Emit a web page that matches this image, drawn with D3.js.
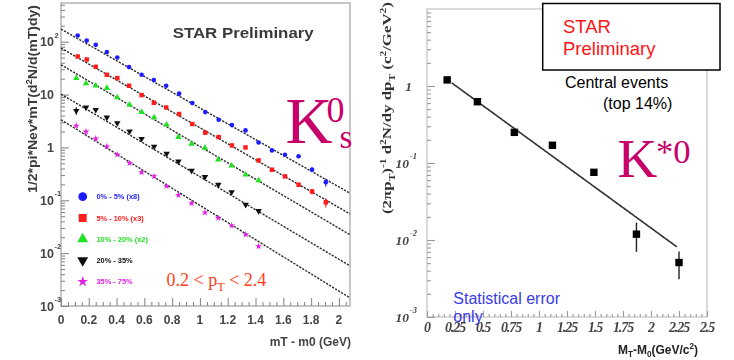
<!DOCTYPE html>
<html>
<head>
<meta charset="utf-8">
<script src="https://cdn.jsdelivr.net/npm/d3@7"></script>
<style>
  html, body { margin: 0; padding: 0; background: #fff; }
  svg { display: block; }
</style>
</head>
<body>
<svg id="chart" width="734" height="360"></svg>
<script>
// ---------- K0s spectra: 1/(2*pi*Nev*mT) d2N/d(mT)dy vs mT - m0 (GeV) ----------
const mtBinsCentral = [0.12, 0.185, 0.25, 0.33, 0.405, 0.49, 0.58, 0.668, 0.757, 0.85, 0.945,
                       1.038, 1.135, 1.23, 1.328, 1.422, 1.518, 1.612, 1.71, 1.807, 1.906];
const mtBinsPeripheral = [0.11, 0.18, 0.25, 0.33, 0.405, 0.494, 0.58, 0.67, 0.76, 0.845, 0.94,
                          1.036, 1.132, 1.228, 1.329, 1.422];

const centralityLabels = ["0% - 5% (x8)", "5% - 10% (x3)", "10% - 20% (x2)", "20% - 35%", "35% - 75%"];

const yield0to5 = [131, 105, 87.4, 63.6, 50.3, 33.1, 23.7, 18.8, 14.7, 10.4, 6.91,
                   4.67, 3.34, 2.65, 2.10, 1.24, 0.878, 0.728, 0.682, 0.379, 0.220];
const yield5to10 = [52.5, 46.1, 33.5, 23.7, 20.5, 14.7, 9.78, 7.0, 5.70, 4.28, 2.77,
                    1.90, 1.57, 1.09, 1.0, 0.568, 0.379, 0.283, 0.197, 0.147, 0.0913];
const yield10to20 = [20.5, 16.2, 14.7, 13.3, 8.81, 6.41, 4.67, 3.69, 2.69, 1.57, 1.17,
                     0.975, 0.585, 0.451, 0.305, 0.238];
const yield20to35 = [4.94, 5.70, 5.16, 3.69, 2.89, 2.01, 1.46, 1.04, 0.760, 0.544, 0.363,
                     0.276, 0.197, 0.1435, 0.0826, 0.0628];
const yield35to75 = [2.57, 1.98, 1.46, 1.04, 0.728, 0.507, 0.337, 0.283, 0.186, 0.125, 0.0874,
                     0.0583, 0.0463, 0.0331, 0.0224, 0.01345];

// relative statistical errors (only the larger ones show outside the markers)
const relErr0to5 = [0,0,0,0,0,0,0,0,0,0,0,0,0,0,0,0,0,0,0.08,0.10,0.18];
const relErr5to10 = [0,0,0,0,0,0,0,0,0,0,0,0,0,0,0,0,0,0.06,0.08,0.12,0.20];
const relErr20to35 = [0.16,0,0,0,0,0,0,0,0,0,0,0,0,0.06,0.08,0.08];

// exponential fits A * exp(-(mT - m0)/T)
const fitNorm = [173, 75.7, 36.6, 10.2, 3.34];
const fitTemp = [0.291, 0.288, 0.281, 0.278, 0.268];

const k0XTicks = [0, 0.2, 0.4, 0.6, 0.8, 1, 1.2, 1.4, 1.6, 1.8, 2];
const k0XTickLabels = ["0", "0.2", "0.4", "0.6", "0.8", "1", "1.2", "1.4", "1.6", "1.8", "2"];
const k0YDecades = [-3, -2, -1, 0, 1, 2];

// ---------- K*0 spectrum, central events ----------
const kstarMt = [0.18, 0.45, 0.78, 1.12, 1.49, 1.87, 2.25];
const kstarYield = [1.20, 0.625, 0.250, 0.170, 0.0757, 0.0119, 0.0051];
const kstarErr = [0.05, 0.03, 0.012, 0.01, 0.005, 0.0049, 0.002];
const kstarFitNorm = 1.88;
const kstarFitTemp = 0.41;
const kstarFitRange = [0.22, 2.23];

const kstarXTicks = [0, 0.25, 0.5, 0.75, 1, 1.25, 1.5, 1.75, 2, 2.25, 2.5];
const kstarXTickLabels = ["0", "0.25", "0.5", "0.75", "1", "1.25", "1.5", "1.75", "2", "2.25", "2.5"];
const kstarYDecades = [-3, -2, -1, 0];

// ---------------------------------------------------------------------------
const svg = d3.select("#chart");
svg.append("rect").attr("width", 734).attr("height", 360).attr("fill", "#fff");

const defs = svg.append("defs");
defs.append("filter").attr("id", "soft")
  .attr("x", "-5%").attr("y", "-5%").attr("width", "110%").attr("height", "110%")
  .append("feGaussianBlur").attr("stdDeviation", 0.55);

// text with super/subscripts: parts = [[text, "sup"|"sub"|null], ...]
function rich(sel, parts, size) {
  let cur = 0;
  parts.forEach(([txt, kind]) => {
    const off = kind === "sup" ? -0.4 * size : kind === "sub" ? 0.28 * size : 0;
    sel.append("tspan")
      .attr("dy", off - cur)
      .attr("font-size", kind ? size * 0.68 : size)
      .text(txt);
    cur = off;
  });
  return sel;
}

// =========================== left panel: K0s ===============================
const xL = d3.scaleLinear().domain([0, 2.08]).range([61, 350]);
const yL = d3.scaleLog().domain([1e-3, 540]).range([306, 3]);

const left = svg.append("g").attr("filter", "url(#soft)");

left.append("rect")
  .attr("x", xL(0)).attr("y", yL.range()[1])
  .attr("width", xL(2.08) - xL(0)).attr("height", yL.range()[0] - yL.range()[1])
  .attr("fill", "none").attr("stroke", "#a8a8a8").attr("stroke-width", 1.3);

// x ticks (pointing up into the frame)
const xMinorL = d3.range(0, 2.081, 0.05).filter(v => Math.abs(v / 0.2 - Math.round(v / 0.2)) > 1e-6);
function styleTicks(g, color) {
  g.select(".domain").remove();
  g.selectAll("line").attr("stroke", color).attr("stroke-width", 1.1);
  g.selectAll("text").remove();
}
left.append("g").attr("transform", `translate(0,${yL.range()[0]})`)
  .call(d3.axisTop(xL).tickValues(xMinorL).tickSize(4).tickFormat(""))
  .call(g => styleTicks(g, "#8a8a8a"));
left.append("g").attr("transform", `translate(0,${yL.range()[0]})`)
  .call(d3.axisTop(xL).tickValues(k0XTicks).tickSize(8).tickFormat(""))
  .call(g => styleTicks(g, "#8a8a8a"));

left.selectAll("text.xlab").data(k0XTicks).join("text")
  .attr("class", "xlab")
  .attr("x", d => xL(d)).attr("y", 324)
  .attr("text-anchor", "middle")
  .attr("font-family", "Liberation Sans, Arial, sans-serif")
  .attr("font-weight", "bold").attr("font-size", 12).attr("fill", "#444")
  .text((d, i) => k0XTickLabels[i]);

left.append("text")
  .attr("x", 351).attr("y", 346).attr("text-anchor", "end")
  .attr("font-family", "Liberation Sans, Arial, sans-serif")
  .attr("font-weight", "bold").attr("font-size", 12).attr("fill", "#444")
  .text("mT - m0 (GeV)");

// y ticks (log), pointing right into the frame
const yMinorL = [];
k0YDecades.concat([3]).forEach(d => {
  for (let k = 2; k <= 9; k++) {
    const v = k * Math.pow(10, d - 1);
    if (v >= yL.domain()[0] && v <= yL.domain()[1]) yMinorL.push(v);
  }
});
left.append("g").attr("transform", `translate(${xL(0)},0)`)
  .call(d3.axisRight(yL).tickValues(yMinorL).tickSize(4).tickFormat(""))
  .call(g => styleTicks(g, "#8a8a8a"));
left.append("g").attr("transform", `translate(${xL(0)},0)`)
  .call(d3.axisRight(yL).tickValues(k0YDecades.map(d => Math.pow(10, d))).tickSize(8).tickFormat(""))
  .call(g => styleTicks(g, "#8a8a8a"));

k0YDecades.forEach(d => {
  const y = yL(Math.pow(10, d));
  const base = d === 0 ? "1" : "10";
  left.append("text")
    .attr("x", 54).attr("y", y).attr("dy", "0.36em")
    .attr("text-anchor", "end")
    .attr("font-family", "Liberation Sans, Arial, sans-serif")
    .attr("font-weight", "bold").attr("font-size", 12.5).attr("fill", "#444")
    .text(base);
  if (d !== 0 && d !== 1) {
    left.append("text")
      .attr("x", 54.5).attr("y", y - 4)
      .attr("font-family", "Liberation Sans, Arial, sans-serif")
      .attr("font-weight", "bold").attr("font-size", 7.5).attr("fill", "#444")
      .text(String(d));
  }
});

// y title
rich(left.append("text")
  .attr("transform", "translate(37,193) rotate(-90)")
  .attr("text-anchor", "start")
  .attr("font-family", "Liberation Sans, Arial, sans-serif")
  .attr("font-weight", "bold").attr("fill", "#3a3a3a")
  .attr("textLength", 188).attr("lengthAdjust", "spacingAndGlyphs"),
  [["1/2*pi*Nev*mT(d", null], ["2", "sup"], ["N/d(mT)dy)", null]], 12.5);

// fits
const fitX = d3.range(0, 2.0801, 0.02);
fitNorm.forEach((A, i) => {
  const line = d3.line().x(d => xL(d)).y(d => yL(A * Math.exp(-d / fitTemp[i])));
  left.append("path")
    .attr("d", line(fitX))
    .attr("fill", "none").attr("stroke", "#2a2a2a")
    .attr("stroke-width", 1.4).attr("stroke-dasharray", "2.2,1.3");
});

// data series
const k0Series = [
  { mt: mtBinsCentral, y: yield0to5, err: relErr0to5 },
  { mt: mtBinsCentral, y: yield5to10, err: relErr5to10 },
  { mt: mtBinsPeripheral, y: yield10to20, err: null },
  { mt: mtBinsPeripheral, y: yield20to35, err: relErr20to35 },
  { mt: mtBinsPeripheral, y: yield35to75, err: null }
];
const seriesStyle = [
  { color: "#1f1fff", shape: d3.symbolCircle, size: 17, rot: 0, legSize: 60 },
  { color: "#ff1a1a", shape: d3.symbolSquare, size: 20, rot: 0, legSize: 64 },
  { color: "#22e022", shape: d3.symbolTriangle, size: 18, rot: 0, legSize: 52 },
  { color: "#111111", shape: d3.symbolTriangle, size: 18, rot: 180, legSize: 52 },
  { color: "#e020e0", shape: d3.symbolStar, size: 15, rot: 0, legSize: 36 }
];

k0Series.forEach((s, i) => {
  const st = seriesStyle[i];
  const pts = s.mt.map((x, j) => ({ x, y: s.y[j], e: s.err ? s.err[j] : 0 }));
  left.selectAll(null).data(pts.filter(p => p.e > 0)).join("line")
    .attr("x1", p => xL(p.x)).attr("x2", p => xL(p.x))
    .attr("y1", p => yL(p.y * (1 + p.e))).attr("y2", p => yL(p.y * (1 - p.e)))
    .attr("stroke", st.color).attr("stroke-width", 1.1);
  left.selectAll(null).data(pts).join("path")
    .attr("d", d3.symbol().type(st.shape).size(st.size)())
    .attr("transform", p => `translate(${xL(p.x)},${yL(p.y)}) rotate(${st.rot})`)
    .attr("fill", st.color);
});

// legend
centralityLabels.forEach((lab, i) => {
  const st = seriesStyle[i];
  const y = 196.7 + i * 21.25;
  left.append("path")
    .attr("d", d3.symbol().type(st.shape).size(st.legSize)())
    .attr("transform", `translate(82.7,${y}) rotate(${st.rot})`)
    .attr("fill", st.color);
  left.append("text")
    .attr("x", 96.5).attr("y", y).attr("dy", "0.35em")
    .attr("font-family", "Liberation Sans, Arial, sans-serif")
    .attr("font-weight", "bold").attr("font-size", 7.4)
    .attr("fill", st.color)
    .text(lab);
});

left.append("text")
  .attr("x", 172.7).attr("y", 37.5)
  .attr("font-family", "Liberation Sans, Arial, sans-serif")
  .attr("font-weight", "bold").attr("font-size", 15).attr("fill", "#3a3a3a")
  .attr("textLength", 141).attr("lengthAdjust", "spacingAndGlyphs")
  .text("STAR Preliminary");

// overlays on the K0s panel
const crimson = "#c8006a";
svg.append("text")
  .attr("x", 285.5).attr("y", 143)
  .attr("font-family", "Liberation Serif, Times New Roman, serif")
  .attr("font-size", 65).attr("fill", crimson).text("K");
svg.append("text")
  .attr("x", 326.5).attr("y", 121.5)
  .attr("font-family", "Liberation Serif, Times New Roman, serif")
  .attr("font-size", 36).attr("fill", crimson).text("0");
svg.append("text")
  .attr("x", 339.5).attr("y", 148)
  .attr("font-family", "Liberation Serif, Times New Roman, serif")
  .attr("font-size", 33).attr("fill", crimson).text("s");

rich(svg.append("text")
  .attr("x", 166.5).attr("y", 286)
  .attr("font-family", "Liberation Serif, Times New Roman, serif")
  .attr("fill", "#ff3d17"),
  [["0.2 < p", null], ["T", "sub"], [" < 2.4", null]], 18);

// =========================== right panel: K*0 ===============================
const xR = d3.scaleLinear().domain([0, 2.5]).range([427, 707]);
const yR = d3.scaleLog().domain([1e-3, 10]).range([317, 9]);

const right = svg.append("g").attr("filter", "url(#soft)");

right.append("rect")
  .attr("x", xR(0)).attr("y", yR.range()[1])
  .attr("width", xR(2.5) - xR(0)).attr("height", yR.range()[0] - yR.range()[1])
  .attr("fill", "none").attr("stroke", "#c4c4c4").attr("stroke-width", 1.2);

const xMinorR = d3.range(0, 2.501, 0.05).filter(v => Math.abs(v / 0.25 - Math.round(v / 0.25)) > 1e-6);
right.append("g").attr("transform", `translate(0,${yR.range()[0]})`)
  .call(d3.axisTop(xR).tickValues(xMinorR).tickSize(3).tickFormat(""))
  .call(g => styleTicks(g, "#9a9a9a"));
right.append("g").attr("transform", `translate(0,${yR.range()[0]})`)
  .call(d3.axisTop(xR).tickValues(kstarXTicks).tickSize(6).tickFormat(""))
  .call(g => styleTicks(g, "#9a9a9a"));

right.selectAll("text.xlab").data(kstarXTicks).join("text")
  .attr("class", "xlab")
  .attr("x", d => xR(d)).attr("y", 332)
  .attr("text-anchor", "middle")
  .attr("font-family", "Liberation Serif, Times New Roman, serif")
  .attr("font-style", "italic").attr("font-weight", "bold")
  .attr("font-size", 14).attr("letter-spacing", -1.1).attr("fill", "#444")
  .text((d, i) => kstarXTickLabels[i]);

const yMinorR = [];
kstarYDecades.concat([1]).forEach(d => {
  for (let k = 2; k <= 9; k++) {
    const v = k * Math.pow(10, d - 1);
    if (v >= yR.domain()[0] && v <= yR.domain()[1]) yMinorR.push(v);
  }
});
right.append("g").attr("transform", `translate(${xR(0)},0)`)
  .call(d3.axisRight(yR).tickValues(yMinorR).tickSize(4).tickFormat(""))
  .call(g => styleTicks(g, "#9a9a9a"));
right.append("g").attr("transform", `translate(${xR(0)},0)`)
  .call(d3.axisRight(yR).tickValues(kstarYDecades.map(d => Math.pow(10, d))).tickSize(8).tickFormat(""))
  .call(g => styleTicks(g, "#9a9a9a"));

kstarYDecades.forEach(d => {
  const y = yR(Math.pow(10, d));
  right.append("text")
    .attr("x", d === 0 ? 412 : 409).attr("y", y).attr("dy", "0.36em")
    .attr("text-anchor", "end")
    .attr("font-family", "Liberation Serif, Times New Roman, serif")
    .attr("font-style", "italic").attr("font-weight", "bold")
    .attr("font-size", 13.5).attr("fill", "#444")
    .text(d === 0 ? "1" : "10");
  if (d !== 0) {
    right.append("text")
      .attr("x", 410).attr("y", y - 4)
      .attr("font-family", "Liberation Serif, Times New Roman, serif")
      .attr("font-style", "italic").attr("font-weight", "bold")
      .attr("font-size", 8.5).attr("fill", "#444")
      .text(String(d));
  }
});

rich(right.append("text")
  .attr("transform", "translate(391,214) rotate(-90)")
  .attr("font-family", "Liberation Serif, Times New Roman, serif")
  .attr("font-weight", "bold").attr("fill", "#333")
  .attr("textLength", 212).attr("lengthAdjust", "spacingAndGlyphs"),
  [["(2\u03c0p", null], ["T", "sub"], [")", null], ["-1", "sup"], [" d", null], ["2", "sup"],
   ["N/dy dp", null], ["T", "sub"], [" (c", null], ["2", "sup"], ["/GeV", null], ["2", "sup"], [")", null]], 13);

rich(right.append("text")
  .attr("x", 698).attr("y", 354).attr("text-anchor", "end")
  .attr("font-family", "Liberation Sans, Arial, sans-serif")
  .attr("font-weight", "bold").attr("fill", "#222"),
  [["M", null], ["T", "sub"], ["-M", null], ["0", "sub"], ["(GeV/c", null], ["2", "sup"], [")", null]], 12);

// fit line
const kstarLine = d3.line()
  .x(d => xR(d))
  .y(d => yR(kstarFitNorm * Math.exp(-d / kstarFitTemp)));
right.append("path")
  .attr("d", kstarLine(d3.range(kstarFitRange[0], kstarFitRange[1] + 1e-9, 0.01)))
  .attr("fill", "none").attr("stroke", "#333").attr("stroke-width", 1.6);

const kstarPts = kstarMt.map((x, i) => ({ x, y: kstarYield[i], e: kstarErr[i] }));
right.selectAll(null).data(kstarPts).join("line")
  .attr("x1", p => xR(p.x)).attr("x2", p => xR(p.x))
  .attr("y1", p => yR(p.y + p.e)).attr("y2", p => yR(Math.max(p.y - p.e, 1e-4)))
  .attr("stroke", "#222").attr("stroke-width", 1.4);
right.selectAll(null).data(kstarPts).join("rect")
  .attr("x", p => xR(p.x) - 3.7).attr("y", p => yR(p.y) - 3.7)
  .attr("width", 7.4).attr("height", 7.4)
  .attr("fill", "#000");

// labels on the K*0 panel
svg.append("rect")
  .attr("x", 542.7).attr("y", 3.5).attr("width", 177.3).attr("height", 66.5)
  .attr("fill", "#fff").attr("stroke", "#000").attr("stroke-width", 1.5);
svg.append("text")
  .attr("x", 563).attr("y", 33)
  .attr("font-family", "Liberation Sans, Arial, sans-serif")
  .attr("font-size", 18.5).attr("fill", "#ff1414").text("STAR");
svg.append("text")
  .attr("x", 563).attr("y", 54.5)
  .attr("font-family", "Liberation Sans, Arial, sans-serif")
  .attr("font-size", 18.5).attr("fill", "#ff1414").text("Preliminary");

svg.append("text")
  .attr("x", 565).attr("y", 87.5)
  .attr("font-family", "Liberation Sans, Arial, sans-serif")
  .attr("font-size", 16).attr("fill", "#000").text("Central events");
svg.append("text")
  .attr("x", 603).attr("y", 109)
  .attr("font-family", "Liberation Sans, Arial, sans-serif")
  .attr("font-size", 16).attr("fill", "#000").text("(top 14%)");

svg.append("text")
  .attr("x", 617.5).attr("y", 176.7)
  .attr("font-family", "Liberation Serif, Times New Roman, serif")
  .attr("font-size", 55).attr("fill", crimson).text("K");
svg.append("text")
  .attr("x", 656).attr("y", 163.3)
  .attr("font-family", "Liberation Serif, Times New Roman, serif")
  .attr("font-size", 34.5).attr("fill", crimson).text("*0");

svg.append("text")
  .attr("x", 453.3).attr("y", 304)
  .attr("font-family", "Liberation Sans, Arial, sans-serif")
  .attr("font-size", 16).attr("fill", "#3a3ae6").text("Statistical error");
svg.append("text")
  .attr("x", 453.3).attr("y", 322)
  .attr("font-family", "Liberation Sans, Arial, sans-serif")
  .attr("font-size", 16).attr("fill", "#3a3ae6").text("only");
</script>
</body>
</html>
